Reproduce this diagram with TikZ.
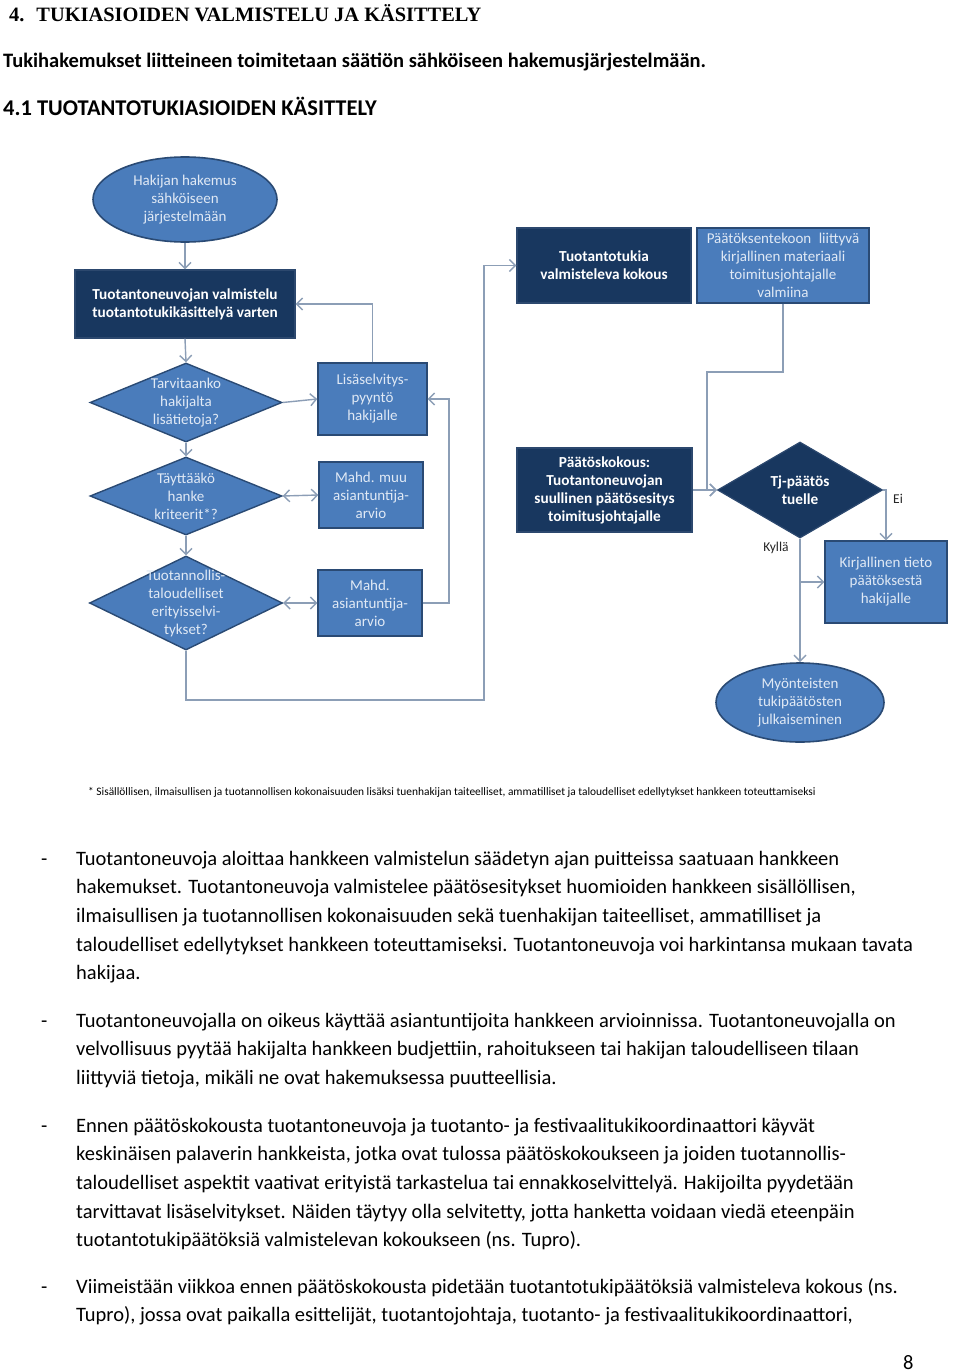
\documentclass[tikz,border=0pt]{standalone}
\usepackage{fontspec}
\setmainfont{Carlito}
\newfontfamily\headfont{Liberation Serif}
\usepackage{xcolor}
\usepackage{tikz}
\usetikzlibrary{shapes.geometric,arrows.meta,positioning}
\definecolor{navy}{RGB}{24,55,95}
\definecolor{navyline}{RGB}{44,72,110}
\definecolor{bluemid}{RGB}{74,124,187}
\definecolor{blueline}{RGB}{42,74,116}
\definecolor{bluetext}{RGB}{224,233,245}
\definecolor{linegray}{RGB}{140,158,182}

\begin{document}
\begin{tikzpicture}[x=1pt,y=-1pt,
	boxnavy/.style={rectangle,draw=navyline,fill=navy,line width=1.2pt,text=white,align=center,inner sep=1pt,font=\bfseries\fontsize{15.3}{18}\selectfont},
	boxblue/.style={rectangle,draw=blueline,fill=bluemid,line width=1.4pt,text=bluetext,align=center,inner sep=1pt,font=\fontsize{15}{18}\selectfont},
	ellblue/.style={ellipse,draw=blueline,fill=bluemid,line width=1.6pt,text=bluetext,align=center,inner sep=0pt,font=\fontsize{15}{18}\selectfont},
	diablue/.style={diamond,draw=blueline,fill=bluemid,line width=1.4pt,inner sep=0pt},
	dianavy/.style={diamond,draw=navyline,fill=navy,line width=1.2pt,inner sep=0pt},
	diatext/.style={text=bluetext,align=center,inner sep=0pt,font=\fontsize{15}{18}\selectfont},
	wire/.style={draw=linegray,line width=1.4pt},
	arr/.style={wire,-{Straight Barb[length=6pt,width=12pt]}},
	arrboth/.style={wire,{Straight Barb[length=6pt,width=12pt]}-{Straight Barb[length=6pt,width=12pt]}},
	bodytxt/.style={align=left,inner sep=0pt,anchor=base west,font=\fontsize{20.5}{28.7}\selectfont},
	tag/.style={inner sep=0pt,text=black!85,font=\fontsize{13.5}{16}\selectfont}]
	\useasboundingbox[fill=white] (0,0) rectangle (960,1372);
	% otsikot
	\node[inner sep=0pt,anchor=base west,font=\headfont\bfseries\fontsize{20.4}{24}\selectfont] (head) at (9,22) {4.\hspace{12pt}TUKIASIOIDEN VALMISTELU JA KÄSITTELY};
	\node[inner sep=0pt,anchor=base west,font=\bfseries\fontsize{20.5}{24}\selectfont] (intro) at (3,68) {Tukihakemukset liitteineen toimitetaan säätiön sähköiseen hakemusjärjestelmään.};
	\node[inner sep=0pt,anchor=base west,font=\bfseries\fontsize{22.5}{26}\selectfont] (subhead) at (3,116) {4.1 TUOTANTOTUKIASIOIDEN KÄSITTELY};
	% kaavio
	\node[ellblue,minimum width=184pt,minimum height=85pt] (hak) at (185,199.5) {Hakijan hakemus\\sähköiseen\\järjestelmään};
	\node[boxnavy,minimum width=220pt,minimum height=68pt] (valm) at (185,304) {Tuotantoneuvojan valmistelu\\tuotantotukikäsittelyä varten};
	\node[diablue,minimum width=192pt,minimum height=79pt,label={[diatext]center:Tarvitaanko\\hakijalta\\lisätietoja?}] (d1) at (186,402.5) {};
	\node[diablue,minimum width=192pt,minimum height=78pt,label={[diatext]center:Täyttääkö\\hanke\\kriteerit*?}] (d2) at (186,496) {};
	\node[diablue,minimum width=193pt,minimum height=94pt,label={[diatext]center:Tuotannollis-\\taloudelliset\\erityisselvi-\\tykset?}] (d3) at (186,603) {};
	\node[boxblue,minimum width=109pt,minimum height=72pt] (lis) at (372.5,399) {Lisäselvitys-\\pyyntö\\hakijalle};
	\node[boxblue,minimum width=104pt,minimum height=66pt] (muu) at (371,495) {Mahd. muu\\asiantuntija-\\arvio};
	\node[boxblue,minimum width=104pt,minimum height=66pt] (asi) at (370,603) {Mahd.\\asiantuntija-\\arvio};
	\node[boxnavy,minimum width=174pt,minimum height=75pt] (tupro) at (604,265.5) {Tuotantotukia\\valmisteleva kokous};
	\node[boxblue,minimum width=172pt,minimum height=75pt] (mat) at (783,265.5) {Päätöksentekoon\enspace liittyvä\\kirjallinen materiaali\\toimitusjohtajalle\\valmiina};
	\node[boxnavy,minimum width=175pt,minimum height=84pt] (kok) at (604.5,490) {Päätöskokous:\\Tuotantoneuvojan\\suullinen päätösesitys\\toimitusjohtajalle};
	\node[dianavy,minimum width=165pt,minimum height=96pt,label={[diatext,text=white,font=\bfseries\fontsize{15.3}{18}\selectfont]center:Tj-päätös\\tuelle}] (tj) at (800,490) {};
	\node[boxblue,minimum width=122pt,minimum height=82pt] (kirj) at (886,582) {Kirjallinen tieto\\päätöksestä\\hakijalle};
	\node[ellblue,minimum width=168pt,minimum height=79pt] (myo) at (800,702.5) {Myönteisten\\tukipäätösten\\julkaiseminen};
	\coordinate (stubC) at (449,603);
	\coordinate (loopA) at (484,700);
	\coordinate (bendB) at (707,372);
	\draw[arr] (hak.south) -- (valm.north);
	\draw[arr] (valm.south) -- (d1.north);
	\draw[arr] (d1.east) -- (lis.west);
	\draw[arr] (lis.north) |- (valm.east);
	\draw[arr] (d1.south) -- (d2.north);
	\draw[arrboth] (d2.east) -- (muu.west);
	\draw[arr] (d2.south) -- (d3.north);
	\draw[arrboth] (d3.east) -- (asi.west);
	\draw[arr] (asi.east) -- (stubC) |- (lis.east);
	\draw[arr] (d3.south) |- (loopA) |- (tupro.west);
	\draw[arr] (mat.south) |- (bendB) |- (tj.west);
	\draw[arr] (kok.east) -- (tj.west);
	\draw[arr] (tj.east) -| (kirj.north);
	\draw[arr] (tj.south) -- (myo.north);
	\draw[arr] (tj.south |- kirj.west) -- (kirj.west);
	\node[tag] (ei) at (898,499) {Ei};
	\node[tag] (kylla) at (776,548) {Kyllä};
	\node[inner sep=0pt,anchor=base west,font=\fontsize{11.4}{13}\selectfont] (note) at (88,795) {* Sisällöllisen, ilmaisullisen ja tuotannollisen kokonaisuuden lisäksi tuenhakijan taiteelliset, ammatilliset ja taloudelliset edellytykset hankkeen toteuttamiseksi};
	% leipäteksti (base = viimeisen rivin perusviiva)
	\node[bodytxt] (dash1) at (41,865) {-};
	\node[bodytxt] (par1) at (76,979.8) {Tuotantoneuvoja aloittaa hankkeen valmistelun säädetyn ajan puitteissa saatuaan hankkeen\\hakemukset. Tuotantoneuvoja valmistelee päätösesitykset huomioiden hankkeen sisällöllisen,\\ilmaisullisen ja tuotannollisen kokonaisuuden sekä tuenhakijan taiteelliset, ammatilliset ja\\taloudelliset edellytykset hankkeen toteuttamiseksi. Tuotantoneuvoja voi harkintansa mukaan tavata\\hakijaa.};
	\node[bodytxt] (dash2) at (41,1027) {-};
	\node[bodytxt] (par2) at (76,1084.4) {Tuotantoneuvojalla on oikeus käyttää asiantuntijoita hankkeen arvioinnissa. Tuotantoneuvojalla on\\velvollisuus pyytää hakijalta hankkeen budjettiin, rahoitukseen tai hakijan taloudelliseen tilaan\\liittyviä tietoja, mikäli ne ovat hakemuksessa puutteellisia.};
	\node[bodytxt] (dash3) at (41,1132) {-};
	\node[bodytxt] (par3) at (76,1246.8) {Ennen päätöskokousta tuotantoneuvoja ja tuotanto- ja festivaalitukikoordinaattori käyvät\\keskinäisen palaverin hankkeista, jotka ovat tulossa päätöskokoukseen ja joiden tuotannollis-\\taloudelliset aspektit vaativat erityistä tarkastelua tai ennakkoselvittelyä. Hakijoilta pyydetään\\tarvittavat lisäselvitykset. Näiden täytyy olla selvitetty, jotta hanketta voidaan viedä eteenpäin\\tuotantotukipäätöksiä valmistelevan kokoukseen (ns. Tupro).};
	\node[bodytxt] (dash4) at (41,1293) {-};
	\node[bodytxt] (par4) at (76,1321.7) {Viimeistään viikkoa ennen päätöskokousta pidetään tuotantotukipäätöksiä valmisteleva kokous (ns.\\Tupro), jossa ovat paikalla esittelijät, tuotantojohtaja, tuotanto- ja festivaalitukikoordinaattori,};
	\node[bodytxt] (pagenum) at (903,1369) {8};
\end{tikzpicture}
\end{document}
